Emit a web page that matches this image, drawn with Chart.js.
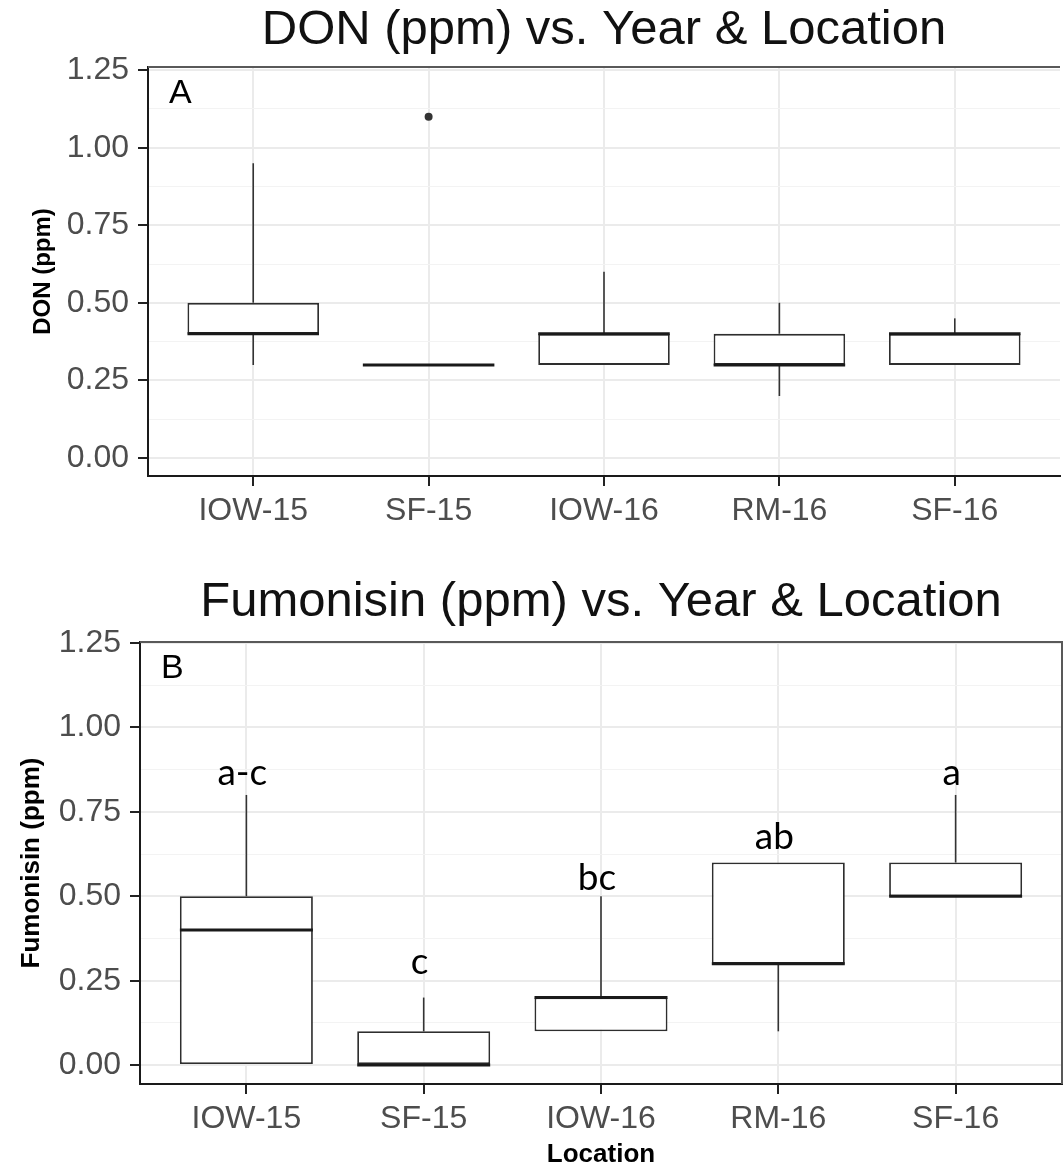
<!DOCTYPE html>
<html>
<head>
<meta charset="utf-8">
<title>DON and Fumonisin vs. Year &amp; Location</title>
<script src="https://cdn.jsdelivr.net/npm/chart.js@4.4.1/dist/chart.umd.min.js"></script>
<style>
  html, body { margin: 0; padding: 0; background: #fff; }
  #wrap { position: relative; width: 1064px; height: 1170px; }
  canvas { position: absolute; left: 0; }
  #donChart { top: 0; }
  #fumChart { top: 565px; }
</style>
</head>
<body>
<div id="wrap">
  <canvas id="donChart" width="1064" height="555"></canvas>
  <canvas id="fumChart" width="1064" height="605"></canvas>
</div>
<script>
const locations = ['IOW-15', 'SF-15', 'IOW-16', 'RM-16', 'SF-16'];

// DON (ppm): whisker ends, quartiles and median per location
const donLow    = [0.30, 0.30, 0.30, 0.20, 0.30];
const donQ1     = [0.40, 0.30, 0.30, 0.30, 0.30];
const donMedian = [0.40, 0.30, 0.40, 0.30, 0.40];
const donQ3     = [0.50, 0.30, 0.40, 0.40, 0.40];
const donHigh   = [0.95, 0.30, 0.60, 0.50, 0.45];
const donOutlierLoc = ['SF-15'];
const donOutlierVal = [1.10];

// Fumonisin (ppm)
const fumLow    = [0.00, 0.00, 0.10, 0.10, 0.50];
const fumQ1     = [0.00, 0.00, 0.10, 0.30, 0.50];
const fumMedian = [0.40, 0.00, 0.20, 0.30, 0.50];
const fumQ3     = [0.50, 0.10, 0.20, 0.60, 0.60];
const fumHigh   = [0.80, 0.20, 0.50, 0.60, 0.80];

// mean separation letters and the height they sit at
const fumGroups = ['a-c', 'c', 'bc', 'ab', 'a'];
const fumGroupY = [0.83, 0.27, 0.52, 0.64, 0.83];

const majorTicks = [0, 0.25, 0.5, 0.75, 1, 1.25];
const minorTicks = [0.125, 0.375, 0.625, 0.875, 1.125];

const SANS = '"Liberation Sans", Arial, sans-serif';
const isMajor = v => majorTicks.some(t => Math.abs(t - v) < 1e-9);

// whiskers, medians, letters and the grey frame around the panel
const boxExtras = {
  id: 'boxExtras',
  afterDatasetsDraw(chart, args, s) {
    const { ctx, chartArea: area, scales: { x, y } } = chart;
    const half = x.getPixelForValue(1.375) - x.getPixelForValue(1);
    ctx.save();

    ctx.strokeStyle = '#333333';
    ctx.lineWidth = 1.6;
    s.low.forEach((lo, i) => {
      const px = x.getPixelForValue(i + 1);
      ctx.beginPath();
      ctx.moveTo(px, y.getPixelForValue(s.q3[i]));
      ctx.lineTo(px, y.getPixelForValue(s.high[i]));
      ctx.moveTo(px, y.getPixelForValue(s.q1[i]));
      ctx.lineTo(px, y.getPixelForValue(lo));
      ctx.stroke();
    });

    ctx.strokeStyle = '#1a1a1a';
    ctx.lineWidth = 3;
    s.median.forEach((m, i) => {
      const px = x.getPixelForValue(i + 1);
      const py = y.getPixelForValue(m);
      ctx.beginPath();
      ctx.moveTo(px - half, py);
      ctx.lineTo(px + half, py);
      ctx.stroke();
    });

    if (s.groups) {
      ctx.fillStyle = '#000';
      ctx.font = '37px Lato, "Open Sans", sans-serif';
      ctx.textAlign = 'center';
      ctx.textBaseline = 'alphabetic';
      s.groups.forEach((g, i) => {
        ctx.fillText(g, x.getPixelForValue(i + 1) - 4, y.getPixelForValue(s.groupY[i]));
      });
    }

    // panel frame: grey top, optional right edge
    ctx.strokeStyle = '#595959';
    ctx.lineWidth = 2;
    ctx.beginPath();
    ctx.moveTo(area.left, area.top);
    ctx.lineTo(area.right, area.top);
    if (s.rightEdge) ctx.lineTo(area.right, area.bottom);
    ctx.stroke();

    ctx.fillStyle = '#000';
    ctx.font = '34px ' + SANS;
    ctx.textAlign = 'left';
    ctx.fillText(s.panel, area.left + 21, area.top + 36);
    ctx.restore();
  }
};

function buildChart(canvasId, s) {
  return new Chart(document.getElementById(canvasId), {
    type: 'bar',
    data: {
      datasets: [{
        type: 'bar',
        data: s.q1.map((q, i) => ({ x: i + 1, y: [q, s.q3[i]] })),
        backgroundColor: '#ffffff',
        borderColor: '#2e2e2e',
        borderWidth: 1.8,
        borderSkipped: false,
        categoryPercentage: 1,
        barPercentage: 0.75
      }, {
        type: 'scatter',
        data: s.outlierLoc.map((loc, i) => ({ x: locations.indexOf(loc) + 1, y: s.outlierVal[i] })),
        pointRadius: 4,
        backgroundColor: '#333333',
        borderWidth: 0
      }]
    },
    options: {
      responsive: false,
      animation: false,
      layout: { padding: { left: 0, right: s.padRight, top: 0, bottom: 0 } },
      plugins: {
        legend: { display: false },
        tooltip: { enabled: false },
        title: {
          display: true,
          text: s.title,
          fullSize: false,
          color: '#111',
          font: { family: SANS, size: 49, weight: 'normal' },
          padding: s.titlePad
        },
        boxExtras: s
      },
      scales: {
        x: {
          type: 'linear',
          min: 0.4,
          max: 5.6,
          offset: false,
          afterBuildTicks: sc => { sc.ticks = locations.map((_, i) => ({ value: i + 1 })); },
          afterFit: sc => { sc.height = s.xHeight; },
          ticks: {
            callback: v => locations[v - 1],
            autoSkip: false,
            maxRotation: 0,
            color: '#4d4d4d',
            padding: 6,
            font: { family: SANS, size: 32 }
          },
          grid: { offset: false, color: '#ebebeb', lineWidth: 2, tickLength: 10, tickColor: '#222', tickWidth: 2 },
          border: { color: '#1a1a1a', width: 2 },
          title: {
            display: !!s.xTitle,
            text: s.xTitle || '',
            color: '#000',
            font: { family: SANS, size: 26, weight: 'bold' },
            padding: { top: 0, bottom: 0 }
          }
        },
        y: {
          min: s.yMin,
          max: s.yMax,
          afterBuildTicks: sc => {
            sc.ticks = majorTicks.concat(minorTicks).sort((a, b) => a - b).map(v => ({ value: v }));
          },
          afterFit: sc => { sc.width = s.yWidth; },
          ticks: {
            callback: v => isMajor(v) ? v.toFixed(2) : '',
            autoSkip: false,
            color: '#4d4d4d',
            padding: 9,
            font: { family: SANS, size: 32 }
          },
          grid: {
            color: c => isMajor(c.tick.value) ? '#ebebeb' : '#f3f3f3',
            lineWidth: c => isMajor(c.tick.value) ? 2 : 1,
            tickLength: 10,
            tickColor: c => isMajor(c.tick.value) ? '#222' : 'rgba(0,0,0,0)',
            tickWidth: 2
          },
          border: { color: '#1a1a1a', width: 2 },
          title: {
            display: true,
            text: s.yTitle,
            color: '#000',
            font: { family: SANS, size: s.yTitleSize, weight: 'bold' },
            padding: { top: s.yTitlePad, bottom: 0 }
          }
        }
      }
    },
    plugins: [boxExtras]
  });
}

buildChart('donChart', {
  title: 'DON (ppm) vs. Year & Location',
  titlePad: { top: 1, bottom: 7.2 },
  panel: 'A',
  low: donLow, q1: donQ1, median: donMedian, q3: donQ3, high: donHigh,
  outlierLoc: donOutlierLoc, outlierVal: donOutlierVal,
  yMin: -0.058, yMax: 1.26,
  yTitle: 'DON (ppm)', yTitleSize: 24, yTitlePad: 28.6,
  yWidth: 148, xHeight: 79, padRight: 0,
  rightEdge: false
});

buildChart('fumChart', {
  title: 'Fumonisin (ppm) vs. Year & Location',
  titlePad: { top: 8, bottom: 10.2 },
  panel: 'B',
  low: fumLow, q1: fumQ1, median: fumMedian, q3: fumQ3, high: fumHigh,
  outlierLoc: [], outlierVal: [],
  groups: fumGroups, groupY: fumGroupY,
  yMin: -0.056, yMax: 1.253,
  yTitle: 'Fumonisin (ppm)', yTitleSize: 26, yTitlePad: 16.4,
  xTitle: 'Location',
  yWidth: 140, xHeight: 86, padRight: 2,
  rightEdge: true
});
</script>
</body>
</html>
